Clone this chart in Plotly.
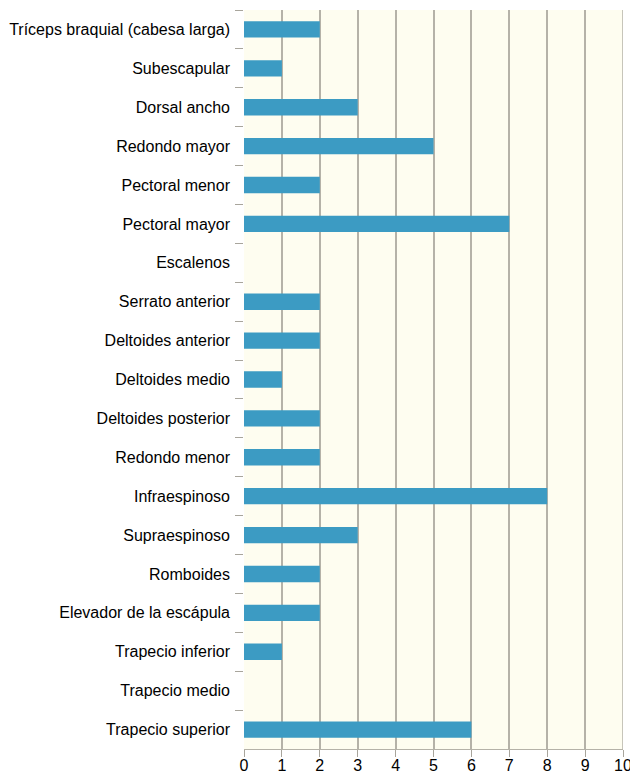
import plotly.graph_objects as go

categories = [
    "Tríceps braquial (cabesa larga)", "Subescapular", "Dorsal ancho",
    "Redondo mayor", "Pectoral menor", "Pectoral mayor", "Escalenos",
    "Serrato anterior", "Deltoides anterior", "Deltoides medio",
    "Deltoides posterior", "Redondo menor", "Infraespinoso",
    "Supraespinoso", "Romboides", "Elevador de la escápula",
    "Trapecio inferior", "Trapecio medio", "Trapecio superior",
]
values = [2, 1, 3, 5, 2, 7, 0, 2, 2, 1, 2, 2, 8, 3, 2, 2, 1, 0, 6]
x_ticks = list(range(0, 11))

fig = go.Figure(go.Bar(
    x=values, y=categories, orientation="h",
    marker=dict(color="#3C9BC3", line=dict(width=0)),
    width=0.42,
))

fig.update_layout(
    width=630, height=774,
    margin=dict(l=244, r=7, t=10, b=25),
    paper_bgcolor="white",
    plot_bgcolor="#FEFDF0",
    showlegend=False,
    font=dict(family="Liberation Sans, Arial, sans-serif", size=16, color="black"),
)
fig.update_xaxes(
    range=[0, 10], tickvals=x_ticks, ticktext=[str(v) for v in x_ticks],
    showgrid=True, gridcolor="#B5B2A8", gridwidth=1.5,
    zeroline=False, showline=True, linecolor="#B5B2A8", linewidth=1,
    ticks="outside", ticklen=7, tickcolor="#A8A59C", tickwidth=1,
    tickfont=dict(size=16, color="black"), ticklabelstandoff=-5,
    automargin=False, ticklabeloverflow="allow",
)
fig.update_yaxes(
    categoryorder="array", categoryarray=categories, autorange="reversed",
    type="category", tickson="boundaries",
    ticks="outside", ticklen=8, tickcolor="#A8A59C", tickwidth=1,
    showgrid=False, showline=False, zeroline=False,
    tickfont=dict(size=16, color="black"), ticklabelstandoff=13,
    automargin=False,
)
fig.add_vline(x=10, line_color="#B5B2A8", line_width=1.5)

fig.write_html(
    "out.html",
    config={"displayModeBar": False},
    post_script="document.body.style.margin='0';document.body.style.overflow='hidden';",
)
